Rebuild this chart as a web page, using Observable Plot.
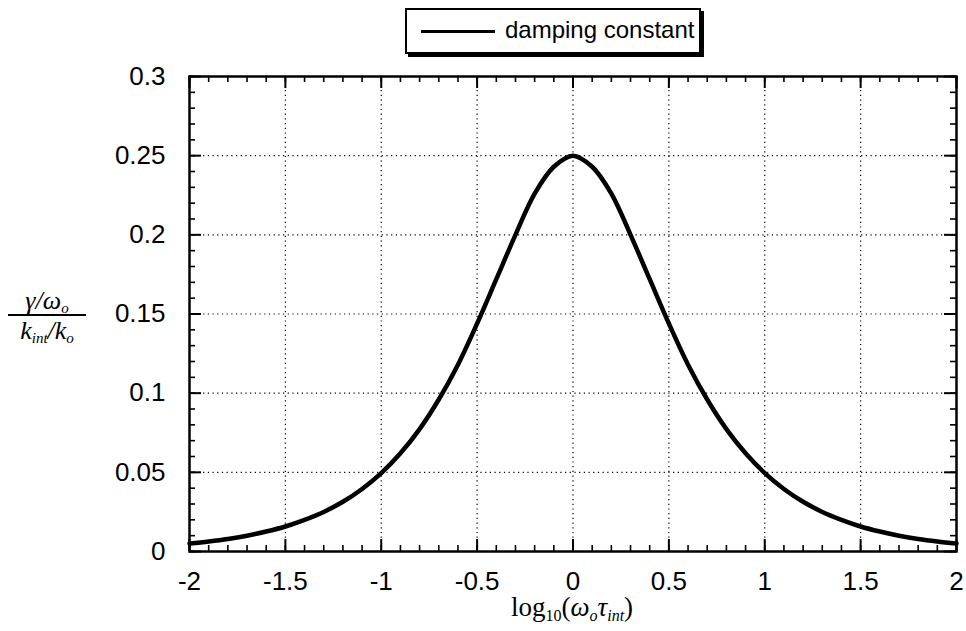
<!DOCTYPE html>
<html>
<head>
<meta charset="utf-8">
<script src="https://cdn.jsdelivr.net/npm/d3@7"></script>
<script src="https://cdn.jsdelivr.net/npm/@observablehq/plot@0.6"></script>
<style>
  html, body { margin: 0; padding: 0; background: #fff; }
  #wrap { position: relative; width: 966px; height: 631px; overflow: hidden; }
  #chart svg { display: block; }
  .legend { position: absolute; left: 405px; top: 8px; width: 292px; height: 42px;
    border: 2px solid #000; box-shadow: 3px 3px 0 #000; background: #fff;
    font-family: "Liberation Sans", Arial, sans-serif; font-size: 24px; color: #000; }
  .legend .sw { position: absolute; left: 14px; top: 20px; width: 74px; height: 3px; background: #000; }
  .legend .lt { position: absolute; left: 98px; top: 6px; line-height: 28px; white-space: nowrap; }
  .xtitle { position: absolute; left: 372px; width: 400px; top: 592px; text-align: center;
    font-family: "Liberation Serif", "Times New Roman", serif; font-size: 27px; color: #000; }
  .xtitle sub { font-size: 16px; vertical-align: -5px; line-height: 0; }
  .ytitle { position: absolute; left: 8px; top: 288px; width: 78px; text-align: center;
    font-family: "Liberation Serif", "Times New Roman", serif; font-style: italic; font-size: 26px; color: #000; }
  .ytitle .num { border-bottom: 2px solid #000; padding-bottom: 1px; line-height: 25px; }
  .ytitle .den { line-height: 30px; }
  .ytitle sub { font-size: 15px; vertical-align: -4px; line-height: 0; }
</style>
</head>
<body>
<div id="wrap">
  <div id="chart"></div>
  <div class="legend"><div class="sw"></div><div class="lt">damping constant</div></div>
  <div class="ytitle"><div class="num">γ/ω<sub>o</sub></div><div class="den">k<sub>int</sub>/k<sub>o</sub></div></div>
  <div class="xtitle">log<sub style="font-style:normal">10</sub>(<i>ω<sub>o</sub>τ<sub>int</sub></i>)</div>
</div>
<script>
// log10(omega_o * tau_int) positions and read damping constant values
const logOmegaTau = [-2.0,-1.9,-1.8,-1.7,-1.6,-1.5,-1.4,-1.3,-1.2,-1.1,-1.0,-0.9,-0.8,-0.7,-0.6,-0.5,-0.4,-0.3,-0.2,-0.1,
  0.0,0.1,0.2,0.3,0.4,0.5,0.6,0.7,0.8,0.9,1.0,1.1,1.2,1.3,1.4,1.5,1.6,1.7,1.8,1.9,2.0];
const damping = [0.005,0.0063,0.0079,0.010,0.0126,0.0158,0.020,0.025,0.0314,0.0395,0.0495,0.062,0.0773,0.096,0.118,0.144,0.172,0.200,0.226,0.243,
  0.250,0.243,0.226,0.200,0.172,0.144,0.118,0.096,0.0773,0.062,0.0495,0.0395,0.0314,0.025,0.020,0.0158,0.0126,0.010,0.0079,0.0063,0.005];
const xTicks = [-2,-1.5,-1,-0.5,0,0.5,1,1.5,2];
const yTicks = [0,0.05,0.1,0.15,0.2,0.25,0.3];
const xMinor = d3.range(-20, 21).map(i => i / 10);
const yMinor = d3.range(0, 31).map(i => i / 100);

const data = logOmegaTau.map((x, i) => ({x, y: damping[i]}));

const W = 966, H = 631, mt = 76, mb = 80, ml = 189, mr = 10;
const iw = W - ml - mr, ih = H - mt - mb;
const majorLen = 12, minorLen = 6;
const fmt = d => String(d);

const chart = Plot.plot({
  width: W, height: H,
  marginTop: mt, marginBottom: mb, marginLeft: ml, marginRight: mr,
  style: {fontFamily: "'Liberation Sans', Arial, sans-serif", fontSize: "26px", background: "#fff", color: "#000"},
  x: {domain: [-2, 2]},
  y: {domain: [0, 0.3]},
  marks: [
    // dotted grid
    Plot.ruleX(xTicks.slice(1, -1), {x: d => d, stroke: "#000", strokeWidth: 1.2, strokeDasharray: "1.2,3.5"}),
    Plot.ruleY(yTicks.slice(1, -1), {y: d => d, stroke: "#000", strokeWidth: 1.2, strokeDasharray: "1.2,3.5"}),
    // inward ticks: bottom & top
    Plot.tickX(xMinor, {x: d => d, stroke: "#000", strokeWidth: 1.6, insetTop: ih - minorLen}),
    Plot.tickX(xMinor, {x: d => d, stroke: "#000", strokeWidth: 1.6, insetBottom: ih - minorLen}),
    Plot.tickX(xTicks, {x: d => d, stroke: "#000", strokeWidth: 2, insetTop: ih - majorLen}),
    Plot.tickX(xTicks, {x: d => d, stroke: "#000", strokeWidth: 2, insetBottom: ih - majorLen}),
    // inward ticks: left & right
    Plot.tickY(yMinor, {y: d => d, stroke: "#000", strokeWidth: 1.6, insetRight: iw - minorLen}),
    Plot.tickY(yMinor, {y: d => d, stroke: "#000", strokeWidth: 1.6, insetLeft: iw - minorLen}),
    Plot.tickY(yTicks, {y: d => d, stroke: "#000", strokeWidth: 2, insetRight: iw - majorLen}),
    Plot.tickY(yTicks, {y: d => d, stroke: "#000", strokeWidth: 2, insetLeft: iw - majorLen}),
    Plot.frame({stroke: "#000", strokeWidth: 2.5}),
    Plot.axisX(xTicks, {tickSize: 0, tickPadding: 20, tickFormat: fmt, label: null, fontSize: 26}),
    Plot.axisY(yTicks, {tickSize: 0, tickPadding: 24, tickFormat: fmt, label: null, fontSize: 26}),
    Plot.line(data, {x: "x", y: "y", stroke: "#000", strokeWidth: 4.5, curve: "catmull-rom"})
  ]
});
document.getElementById("chart").appendChild(chart);
</script>
</body>
</html>
